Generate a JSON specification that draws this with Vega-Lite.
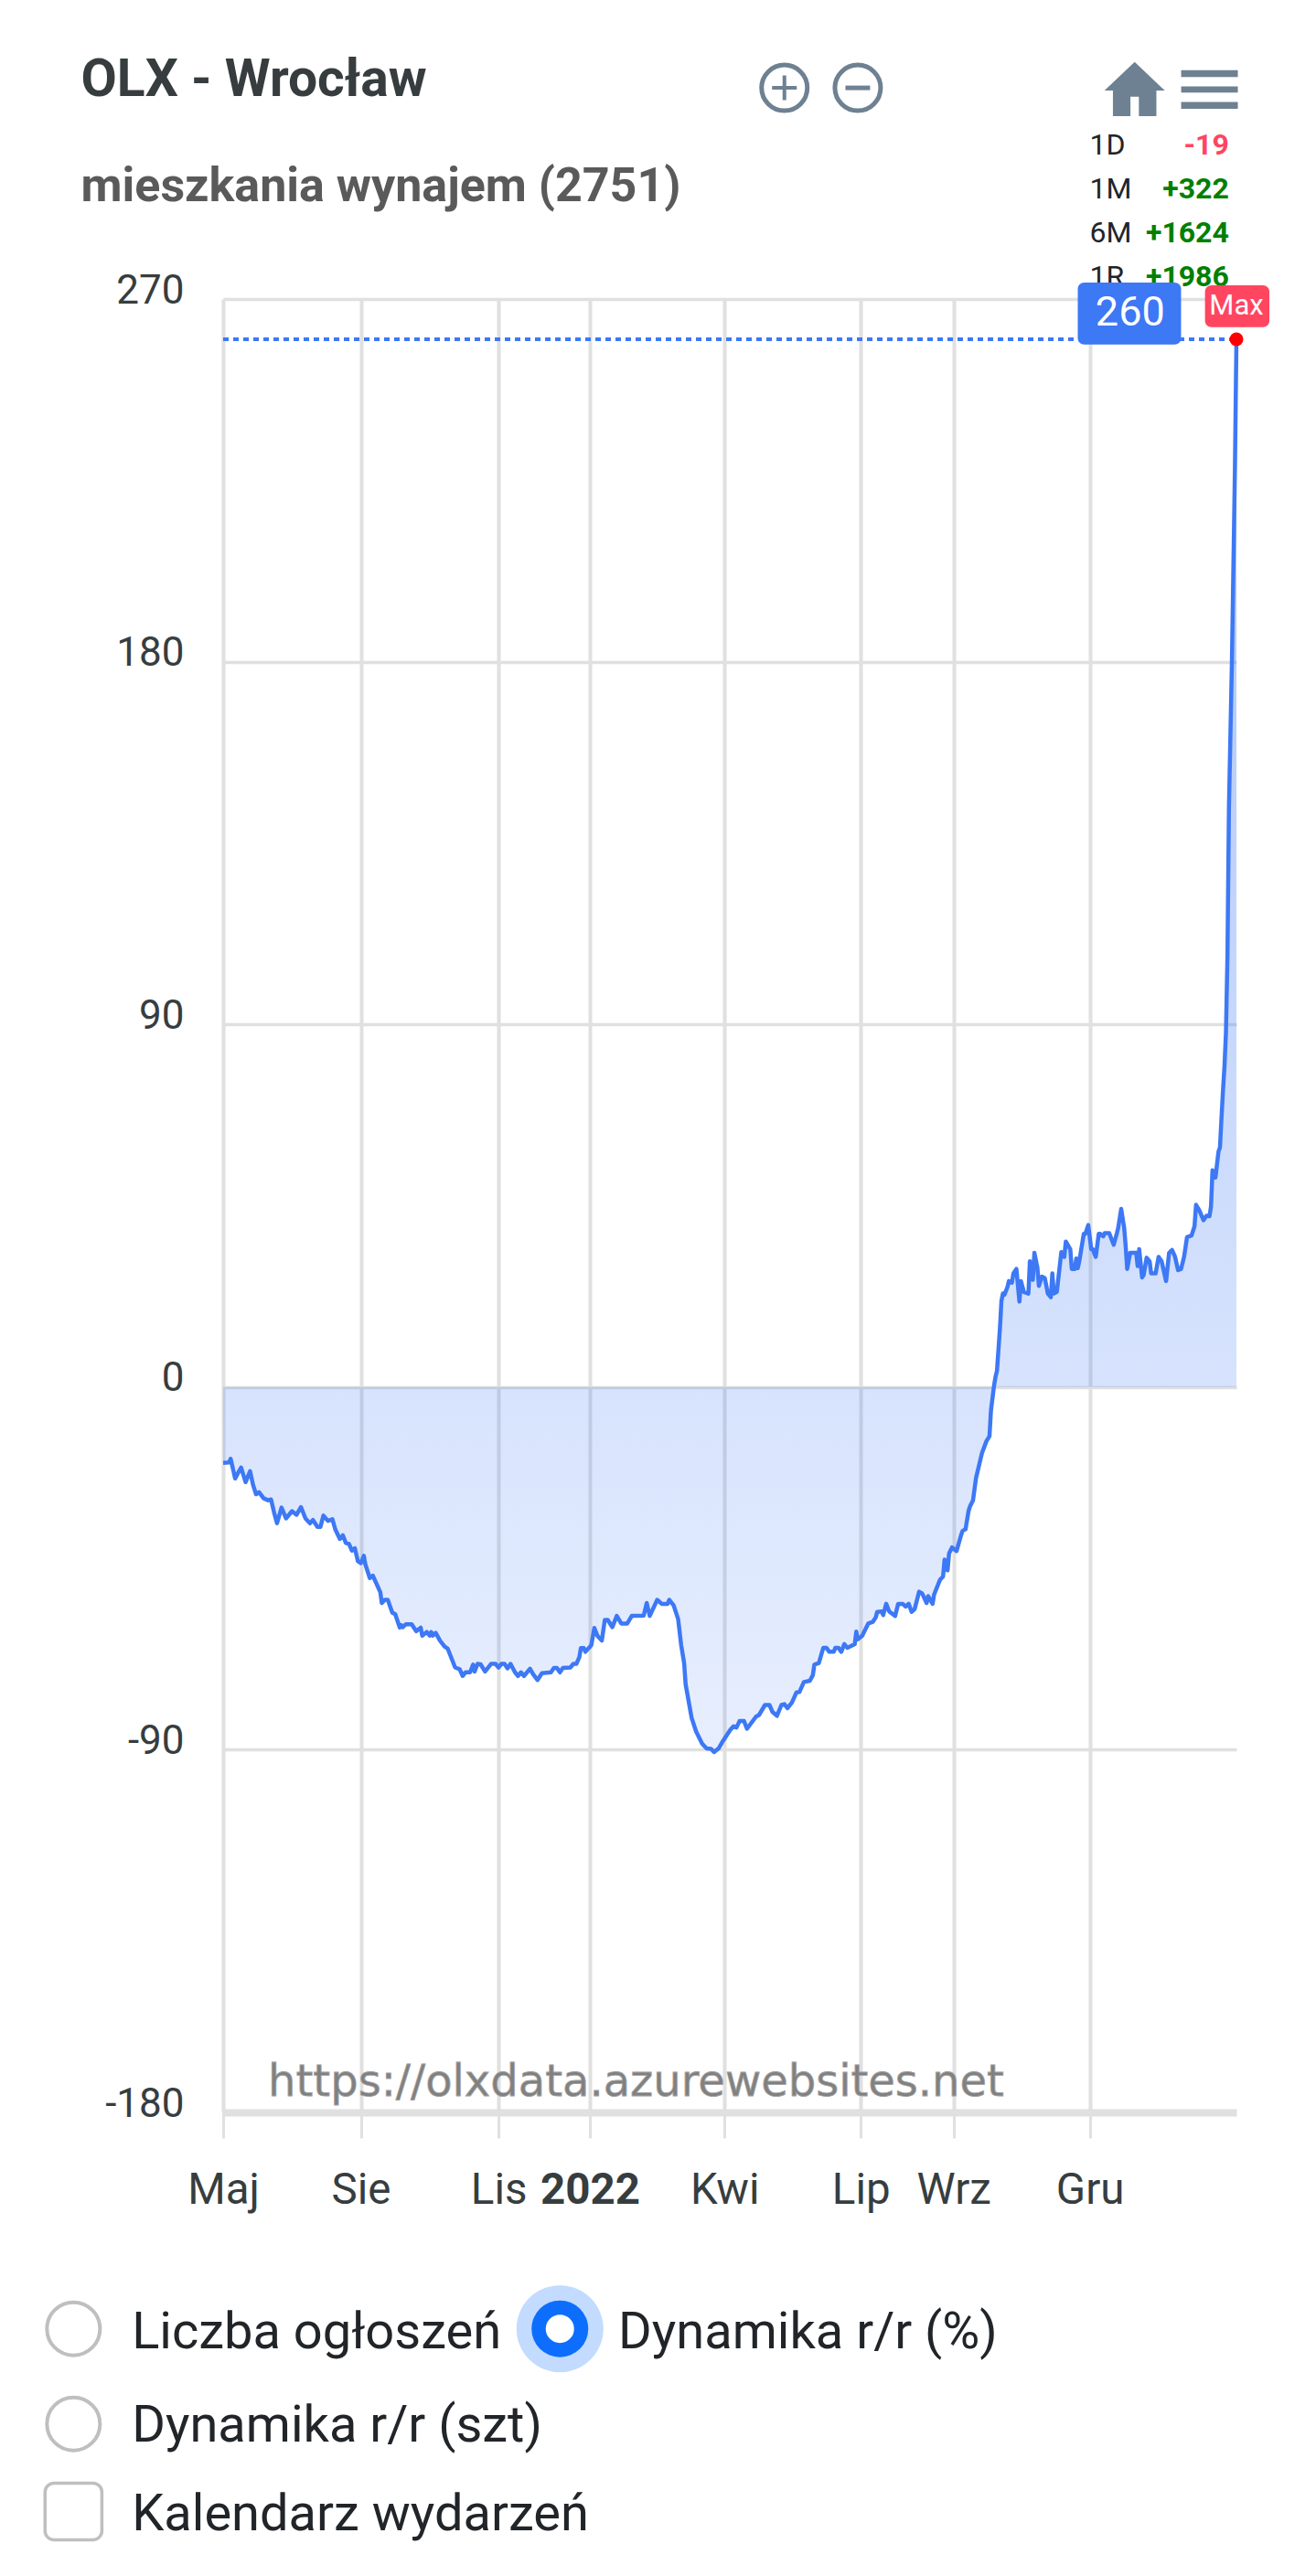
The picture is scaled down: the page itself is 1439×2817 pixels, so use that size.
{"$schema":"https://vega.github.io/schema/vega-lite/v6.json","width":1108,"height":1983,"autosize":{"type":"none"},"padding":{"left":244,"top":327,"right":87,"bottom":507},"background":"white",
"config":{"view":{"stroke":null},"font":"Roboto"},
"datasets":{"series":[
{"d":"2021-05-01","v":-18.8},{"d":"2021-05-05","v":-18.7},{"d":"2021-05-06","v":-17.8},{"d":"2021-05-07","v":-19.4},{"d":"2021-05-09","v":-22.7},{"d":"2021-05-11","v":-21.3},{"d":"2021-05-13","v":-20},{"d":"2021-05-16","v":-23.6},{"d":"2021-05-19","v":-20.9},{"d":"2021-05-21","v":-24.3},{"d":"2021-05-23","v":-26.6},{"d":"2021-05-25","v":-26.1},{"d":"2021-05-28","v":-27.6},{"d":"2021-05-31","v":-28.1},{"d":"2021-06-02","v":-27.9},{"d":"2021-06-04","v":-31.1},{"d":"2021-06-06","v":-33.8},{"d":"2021-06-09","v":-29.9},{"d":"2021-06-12","v":-32.6},{"d":"2021-06-16","v":-30.8},{"d":"2021-06-19","v":-31.7},{"d":"2021-06-22","v":-29.8},{"d":"2021-06-25","v":-32.6},{"d":"2021-06-28","v":-33.8},{"d":"2021-06-30","v":-33},{"d":"2021-07-03","v":-34.7},{"d":"2021-07-05","v":-34.7},{"d":"2021-07-07","v":-31.9},{"d":"2021-07-10","v":-33.2},{"d":"2021-07-13","v":-32.8},{"d":"2021-07-15","v":-35.4},{"d":"2021-07-18","v":-37.7},{"d":"2021-07-20","v":-36.8},{"d":"2021-07-22","v":-38.7},{"d":"2021-07-24","v":-38.9},{"d":"2021-07-26","v":-40.6},{"d":"2021-07-28","v":-40},{"d":"2021-07-30","v":-43.2},{"d":"2021-08-01","v":-43.7},{"d":"2021-08-03","v":-41.9},{"d":"2021-08-04","v":-44},{"d":"2021-08-07","v":-47.4},{"d":"2021-08-09","v":-46.8},{"d":"2021-08-14","v":-50.9},{"d":"2021-08-15","v":-53.6},{"d":"2021-08-17","v":-52.8},{"d":"2021-08-19","v":-52.8},{"d":"2021-08-22","v":-56},{"d":"2021-08-24","v":-56.4},{"d":"2021-08-27","v":-59.7},{"d":"2021-08-28","v":-59.1},{"d":"2021-08-29","v":-59.6},{"d":"2021-08-31","v":-58.9},{"d":"2021-09-04","v":-58.9},{"d":"2021-09-07","v":-60.6},{"d":"2021-09-10","v":-59.7},{"d":"2021-09-11","v":-61.7},{"d":"2021-09-14","v":-60.8},{"d":"2021-09-16","v":-61.7},{"d":"2021-09-17","v":-60.8},{"d":"2021-09-18","v":-61.7},{"d":"2021-09-20","v":-61},{"d":"2021-09-23","v":-63},{"d":"2021-09-26","v":-64.4},{"d":"2021-09-28","v":-64.9},{"d":"2021-10-03","v":-69.6},{"d":"2021-10-06","v":-70},{"d":"2021-10-08","v":-71.7},{"d":"2021-10-10","v":-70.8},{"d":"2021-10-13","v":-70.8},{"d":"2021-10-15","v":-68.9},{"d":"2021-10-16","v":-70.6},{"d":"2021-10-18","v":-68.7},{"d":"2021-10-20","v":-68.8},{"d":"2021-10-23","v":-70.6},{"d":"2021-10-27","v":-68.7},{"d":"2021-10-30","v":-68.7},{"d":"2021-11-01","v":-69.6},{"d":"2021-11-03","v":-68.7},{"d":"2021-11-05","v":-68.7},{"d":"2021-11-07","v":-69.8},{"d":"2021-11-09","v":-68.7},{"d":"2021-11-12","v":-70.8},{"d":"2021-11-14","v":-71.7},{"d":"2021-11-16","v":-70.8},{"d":"2021-11-18","v":-71.7},{"d":"2021-11-22","v":-69.9},{"d":"2021-11-24","v":-71.2},{"d":"2021-11-27","v":-72.7},{"d":"2021-11-30","v":-71},{"d":"2021-12-06","v":-70.8},{"d":"2021-12-08","v":-69.7},{"d":"2021-12-10","v":-69.7},{"d":"2021-12-12","v":-70.8},{"d":"2021-12-14","v":-69.7},{"d":"2021-12-19","v":-69.6},{"d":"2021-12-21","v":-68.7},{"d":"2021-12-23","v":-68.7},{"d":"2021-12-25","v":-67},{"d":"2021-12-26","v":-64.8},{"d":"2021-12-28","v":-64.8},{"d":"2021-12-29","v":-65.7},{"d":"2022-01-01","v":-64.5},{"d":"2022-01-02","v":-64},{"d":"2022-01-04","v":-59.8},{"d":"2022-01-06","v":-61.7},{"d":"2022-01-09","v":-62.9},{"d":"2022-01-11","v":-57.8},{"d":"2022-01-13","v":-57.8},{"d":"2022-01-16","v":-59.6},{"d":"2022-01-19","v":-56.8},{"d":"2022-01-22","v":-58.7},{"d":"2022-01-26","v":-58.7},{"d":"2022-01-29","v":-56.8},{"d":"2022-02-06","v":-56.7},{"d":"2022-02-08","v":-53.6},{"d":"2022-02-10","v":-56.8},{"d":"2022-02-11","v":-56},{"d":"2022-02-15","v":-52.8},{"d":"2022-02-18","v":-53.8},{"d":"2022-02-22","v":-53.8},{"d":"2022-02-23","v":-52.8},{"d":"2022-02-26","v":-54.2},{"d":"2022-03-01","v":-57.6},{"d":"2022-03-03","v":-64},{"d":"2022-03-05","v":-68.5},{"d":"2022-03-06","v":-73.8},{"d":"2022-03-10","v":-82.1},{"d":"2022-03-13","v":-85.5},{"d":"2022-03-17","v":-88.5},{"d":"2022-03-20","v":-89.7},{"d":"2022-03-23","v":-89.8},{"d":"2022-03-25","v":-90.6},{"d":"2022-03-28","v":-89.7},{"d":"2022-03-31","v":-87.8},{"d":"2022-04-05","v":-85},{"d":"2022-04-07","v":-84.2},{"d":"2022-04-09","v":-84.5},{"d":"2022-04-11","v":-82.9},{"d":"2022-04-14","v":-82.9},{"d":"2022-04-16","v":-84.8},{"d":"2022-04-22","v":-81.8},{"d":"2022-04-24","v":-81.4},{"d":"2022-04-28","v":-78.9},{"d":"2022-05-01","v":-78.9},{"d":"2022-05-03","v":-80.6},{"d":"2022-05-06","v":-81.6},{"d":"2022-05-09","v":-78.9},{"d":"2022-05-11","v":-78.7},{"d":"2022-05-13","v":-79.7},{"d":"2022-05-16","v":-78.3},{"d":"2022-05-19","v":-75.8},{"d":"2022-05-21","v":-75.7},{"d":"2022-05-24","v":-73.2},{"d":"2022-05-28","v":-72.9},{"d":"2022-05-30","v":-71.5},{"d":"2022-05-31","v":-68.9},{"d":"2022-06-03","v":-68.5},{"d":"2022-06-06","v":-64.7},{"d":"2022-06-08","v":-64.7},{"d":"2022-06-10","v":-65.7},{"d":"2022-06-13","v":-65.7},{"d":"2022-06-14","v":-64.7},{"d":"2022-06-16","v":-64.7},{"d":"2022-06-18","v":-65.7},{"d":"2022-06-20","v":-63.8},{"d":"2022-06-22","v":-64.7},{"d":"2022-06-27","v":-63.8},{"d":"2022-06-28","v":-60.7},{"d":"2022-06-29","v":-62.6},{"d":"2022-07-02","v":-61.7},{"d":"2022-07-06","v":-58.7},{"d":"2022-07-09","v":-58.3},{"d":"2022-07-11","v":-57.2},{"d":"2022-07-12","v":-55.8},{"d":"2022-07-15","v":-55.7},{"d":"2022-07-16","v":-56.6},{"d":"2022-07-18","v":-53.8},{"d":"2022-07-20","v":-55.7},{"d":"2022-07-24","v":-56.8},{"d":"2022-07-26","v":-53.8},{"d":"2022-07-29","v":-53.8},{"d":"2022-07-31","v":-54.5},{"d":"2022-08-02","v":-53.8},{"d":"2022-08-04","v":-55.8},{"d":"2022-08-06","v":-55.1},{"d":"2022-08-09","v":-50.8},{"d":"2022-08-11","v":-51.2},{"d":"2022-08-14","v":-53.6},{"d":"2022-08-15","v":-51.9},{"d":"2022-08-18","v":-53.8},{"d":"2022-08-19","v":-51.5},{"d":"2022-08-23","v":-47.8},{"d":"2022-08-25","v":-47},{"d":"2022-08-26","v":-42.8},{"d":"2022-08-28","v":-45.5},{"d":"2022-08-29","v":-41.3},{"d":"2022-08-31","v":-39.8},{"d":"2022-09-03","v":-40.7},{"d":"2022-09-06","v":-36.8},{"d":"2022-09-07","v":-35.7},{"d":"2022-09-09","v":-35.3},{"d":"2022-09-11","v":-30.8},{"d":"2022-09-12","v":-29.6},{"d":"2022-09-14","v":-28.1},{"d":"2022-09-16","v":-22.6},{"d":"2022-09-19","v":-17.9},{"d":"2022-09-20","v":-16.4},{"d":"2022-09-23","v":-13.4},{"d":"2022-09-25","v":-12.2},{"d":"2022-09-26","v":-5.8},{"d":"2022-09-28","v":0.2},{"d":"2022-09-29","v":2.5},{"d":"2022-09-30","v":4},{"d":"2022-10-01","v":9.3},{"d":"2022-10-02","v":14.6},{"d":"2022-10-03","v":21.4},{"d":"2022-10-04","v":23.2},{"d":"2022-10-05","v":22.9},{"d":"2022-10-07","v":24.8},{"d":"2022-10-08","v":26.3},{"d":"2022-10-10","v":25.9},{"d":"2022-10-11","v":28.2},{"d":"2022-10-13","v":29.3},{"d":"2022-10-15","v":21.2},{"d":"2022-10-16","v":26.3},{"d":"2022-10-18","v":23.6},{"d":"2022-10-21","v":23.2},{"d":"2022-10-22","v":31.2},{"d":"2022-10-24","v":26.6},{"d":"2022-10-25","v":33.3},{"d":"2022-10-27","v":29.7},{"d":"2022-10-28","v":25.1},{"d":"2022-10-30","v":27.4},{"d":"2022-11-01","v":27},{"d":"2022-11-03","v":23.2},{"d":"2022-11-05","v":22.3},{"d":"2022-11-06","v":28.2},{"d":"2022-11-07","v":23.2},{"d":"2022-11-09","v":23.6},{"d":"2022-11-12","v":33.5},{"d":"2022-11-14","v":32.3},{"d":"2022-11-15","v":36.1},{"d":"2022-11-18","v":34.2},{"d":"2022-11-19","v":29.3},{"d":"2022-11-21","v":29.3},{"d":"2022-11-22","v":31.9},{"d":"2022-11-23","v":29.5},{"d":"2022-11-24","v":31.2},{"d":"2022-11-27","v":38},{"d":"2022-11-28","v":38},{"d":"2022-11-30","v":40.2},{"d":"2022-12-02","v":34.2},{"d":"2022-12-03","v":34.2},{"d":"2022-12-05","v":32.3},{"d":"2022-12-07","v":38},{"d":"2022-12-08","v":38},{"d":"2022-12-10","v":37.4},{"d":"2022-12-11","v":38.2},{"d":"2022-12-14","v":38.2},{"d":"2022-12-17","v":35.3},{"d":"2022-12-19","v":38},{"d":"2022-12-20","v":39.5},{"d":"2022-12-22","v":44.2},{"d":"2022-12-24","v":39.5},{"d":"2022-12-25","v":35},{"d":"2022-12-26","v":29.3},{"d":"2022-12-28","v":33.3},{"d":"2023-01-01","v":33.3},{"d":"2023-01-02","v":30},{"d":"2023-01-03","v":34.2},{"d":"2023-01-05","v":27.2},{"d":"2023-01-06","v":27.8},{"d":"2023-01-08","v":32.1},{"d":"2023-01-10","v":31.2},{"d":"2023-01-11","v":28.2},{"d":"2023-01-14","v":28.2},{"d":"2023-01-16","v":32.3},{"d":"2023-01-18","v":31.2},{"d":"2023-01-21","v":26.3},{"d":"2023-01-23","v":33.3},{"d":"2023-01-25","v":34},{"d":"2023-01-27","v":32.3},{"d":"2023-01-29","v":29},{"d":"2023-01-31","v":29.3},{"d":"2023-02-02","v":32.3},{"d":"2023-02-04","v":37.2},{"d":"2023-02-07","v":37.6},{"d":"2023-02-09","v":39.9},{"d":"2023-02-10","v":45.2},{"d":"2023-02-12","v":44},{"d":"2023-02-15","v":41.4},{"d":"2023-02-17","v":42.5},{"d":"2023-02-19","v":42.4},{"d":"2023-02-20","v":44.8},{"d":"2023-02-21","v":53.8},{"d":"2023-02-22","v":52},{"d":"2023-02-23","v":52},{"d":"2023-02-25","v":58.4},{"d":"2023-02-26","v":59.5},{"d":"2023-02-27","v":66.7},{"d":"2023-02-28","v":73.5},{"d":"2023-03-01","v":79.5},{"d":"2023-03-02","v":88},{"d":"2023-03-03","v":107},{"d":"2023-03-04","v":144},{"d":"2023-03-06","v":180.5},{"d":"2023-03-08","v":228},{"d":"2023-03-09","v":260}
]},
"encoding":{
"x":{"field":"d","type":"temporal","title":null,"scale":{"type":"utc","domain":[{"year":2021,"month":5,"date":1,"utc":true},{"year":2023,"month":3,"date":9,"utc":true}]},
"axis":{"values":[{"year":2021,"month":5,"date":1,"utc":true},{"year":2021,"month":8,"date":1,"utc":true},{"year":2021,"month":11,"date":1,"utc":true},{"year":2022,"month":1,"date":1,"utc":true},{"year":2022,"month":4,"date":1,"utc":true},{"year":2022,"month":7,"date":1,"utc":true},{"year":2022,"month":9,"date":1,"utc":true},{"year":2022,"month":12,"date":1,"utc":true}],
"labelExpr":"['2022','','','Kwi','Maj','','Lip','Sie','Wrz','','Lis','Gru'][utcmonth(datum.value)]","labelFontWeight":{"condition":{"test":"utcmonth(datum.value)==0","value":"bold"},"value":"normal"},"labelFont":"Roboto","labelFontSize":47.5,"labelColor":"#373d3f","labelPadding":33,"labelOverlap":false,"labelBound":false,"labelFlush":false,"labelAngle":0,"domain":false,"ticks":true,"tickSize":28,"tickColor":"#e0e0e0","tickWidth":3,"grid":true,"gridColor":"#e0e0e0","gridWidth":4,"title":null}},
"y":{"field":"v","type":"quantitative","title":null,"scale":{"domain":[-180,270],"nice":false,"zero":false},
"axis":{"values":[-180,-90,0,90,180,270],"labelExpr":"''+datum.value","labelFont":"Roboto","labelFontSize":44,"labelColor":"#373d3f","labelPadding":43,"labelOffset":-9,"labelOverlap":false,"labelBound":false,"domain":false,"ticks":false,"grid":true,"gridColor":"#e0e0e0","gridWidth":{"condition":{"test":"datum.value==-180","value":8},"value":3.5},"title":null}}
},
"layer":[
{"data":{"name":"series"},"mark":{"type":"area","line":false,"fill":{"gradient":"linear","x1":0,"y1":0,"x2":0,"y2":1,"stops":[{"offset":0,"color":"rgba(61,120,245,0.45)"},{"offset":1,"color":"rgba(61,120,245,0.12)"}]}},"encoding":{"y2":{"datum":0}}},
{"data":{"values":[{"d":"2021-05-01","d2":"2023-03-09","v":260}]},"mark":{"type":"rule","stroke":"#3d78f5","strokeWidth":4,"strokeDash":[6,5]},"encoding":{"x2":{"field":"d2"}}},
{"data":{"name":"series"},"mark":{"type":"line","stroke":"#3d78f5","strokeWidth":4.5,"interpolate":"linear","strokeJoin":"round"}},
{"data":{"values":[{"d":"2021-05-31","v":-176,"t":"https://olxdata.azurewebsites.net"}]},"mark":{"type":"text","font":"DejaVu Sans","fontSize":48,"align":"left","baseline":"alphabetic","fill":"#808080","stroke":"#a0a0a0","strokeWidth":0.8},"encoding":{"text":{"field":"t"}}},
{"data":{"values":[{"d":"2021-01-26","v":320.3,"t":"OLX - Wrocław"}]},"mark":{"type":"text","font":"Roboto","fontWeight":"bold","fontSize":57,"align":"left","baseline":"alphabetic","fill":"#373d3f"},"encoding":{"text":{"field":"t"}}},
{"data":{"values":[{"d":"2021-01-26","v":294.2,"t":"mieszkania wynajem (2751)"}]},"mark":{"type":"text","font":"Roboto","fontWeight":"bold","fontSize":52,"align":"left","baseline":"alphabetic","fill":"#5a5a5a"},"encoding":{"text":{"field":"t"}}},
{"data":{"values":[{"d":"2022-12-01","v":308.2,"t":"1D"},{"d":"2022-12-01","v":297.3,"t":"1M"},{"d":"2022-12-01","v":286.4,"t":"6M"},{"d":"2022-12-01","v":275.5,"t":"1R"}]},"mark":{"type":"text","font":"Roboto","fontSize":32,"align":"left","baseline":"middle","fill":"#212529"},"encoding":{"text":{"field":"t"}}},
{"data":{"values":[{"d":"2023-03-04","v":308.2,"t":"-19"}]},"mark":{"type":"text","font":"Roboto","fontWeight":"bold","fontSize":32,"align":"right","baseline":"middle","fill":"#ff4560"},"encoding":{"text":{"field":"t"}}},
{"data":{"values":[{"d":"2023-03-04","v":297.3,"t":"+322"},{"d":"2023-03-04","v":286.4,"t":"+1624"},{"d":"2023-03-04","v":275.5,"t":"+1986"}]},"mark":{"type":"text","font":"Roboto","fontWeight":"bold","fontSize":32,"align":"right","baseline":"middle","fill":"#008000"},"encoding":{"text":{"field":"t"}}},
{"data":{"values":[{"d":"2022-11-23","d2":"2023-01-31","v":274.1,"v2":258.7}]},"mark":{"type":"rect","fill":"#3d78f5","cornerRadius":7},"encoding":{"x2":{"field":"d2"},"y2":{"field":"v2"}}},
{"data":{"values":[{"d":"2023-02-16","d2":"2023-03-31","v":273.4,"v2":263}]},"mark":{"type":"rect","fill":"#ff4560","cornerRadius":7},"encoding":{"x2":{"field":"d2"},"y2":{"field":"v2"}}},
{"data":{"values":[{"d":"2022-12-28","v":266.5,"t":"260"}]},"mark":{"type":"text","font":"Roboto","fontSize":45,"align":"center","baseline":"middle","fill":"white"},"encoding":{"text":{"field":"t"}}},
{"data":{"values":[{"d":"2023-03-09","v":268.2,"t":"Max"}]},"mark":{"type":"text","font":"Roboto","fontSize":31,"align":"center","baseline":"middle","fill":"white"},"encoding":{"text":{"field":"t"}}},
{"data":{"values":[{"d":"2023-03-09","v":260}]},"mark":{"type":"point","shape":"circle","filled":true,"fill":"#ff0000","opacity":1,"size":225}},
{"data":{"values":[{"d":"2022-05-11","v":322.4},{"d":"2022-06-29","v":322.4}]},"mark":{"type":"point","shape":"circle","filled":false,"stroke":"#6e8192","strokeWidth":5,"size":2500,"opacity":1}},
{"data":{"values":[{"d":"2022-05-11","v":322.4}]},"mark":{"type":"point","shape":"M-1,0L1,0M0,-1L0,1","filled":false,"stroke":"#6e8192","strokeWidth":4,"size":729,"opacity":1}},
{"data":{"values":[{"d":"2022-06-29","v":322.4}]},"mark":{"type":"point","shape":"M-1,0L1,0","filled":false,"stroke":"#6e8192","strokeWidth":5,"size":729,"opacity":1}},
{"data":{"values":[{"d":"2022-12-31","v":322.1}]},"mark":{"type":"point","shape":"M0,-0.9L1,0.05L0.72,0.05L0.72,0.9L0.14,0.9L0.14,0.25L-0.14,0.25L-0.14,0.9L-0.72,0.9L-0.72,0.05L-1,0.05Z","filled":true,"fill":"#6e8192","size":4356,"opacity":1}},
{"data":{"values":[{"d":"2023-02-19","v":322}]},"mark":{"type":"point","shape":"M-1,-0.68H1V-0.44H-1Z M-1,-0.11H1V0.11H-1Z M-1,0.44H1V0.68H-1Z","filled":true,"fill":"#6e8192","size":3844,"opacity":1}},
{"data":{"values":[{"d":"2021-01-21","v":-233.7},{"d":"2021-01-21","v":-257.3}]},"mark":{"type":"point","shape":"circle","filled":false,"stroke":"#bfbfbf","strokeWidth":4,"size":3364,"opacity":1}},
{"data":{"values":[{"d":"2021-12-12","v":-233.7}]},"mark":{"type":"point","shape":"circle","filled":true,"fill":"#c2dbfe","size":9025,"opacity":1}},
{"data":{"values":[{"d":"2021-12-12","v":-233.7}]},"mark":{"type":"point","shape":"circle","filled":true,"fill":"#0d6efd","size":3844,"opacity":1}},
{"data":{"values":[{"d":"2021-12-12","v":-233.7}]},"mark":{"type":"point","shape":"circle","filled":true,"fill":"#ffffff","size":961,"opacity":1}},
{"data":{"values":[{"d":"2021-01-02","d2":"2021-02-09","v":-272,"v2":-286.1}]},"mark":{"type":"rect","fill":"#ffffff","stroke":"#bfbfbf","strokeWidth":3.5,"cornerRadius":10},"encoding":{"x2":{"field":"d2"},"y2":{"field":"v2"}}},
{"data":{"values":[{"d":"2021-03-01","v":-238.5,"t":"Liczba ogłoszeń"},{"d":"2022-01-20","v":-238.5,"t":"Dynamika r/r (%)"},{"d":"2021-03-01","v":-261.7,"t":"Dynamika r/r (szt)"},{"d":"2021-03-01","v":-283.6,"t":"Kalendarz wydarzeń"}]},"mark":{"type":"text","font":"Roboto","fontSize":56,"align":"left","baseline":"alphabetic","fill":"#212529"},"encoding":{"text":{"field":"t"}}}
]}
